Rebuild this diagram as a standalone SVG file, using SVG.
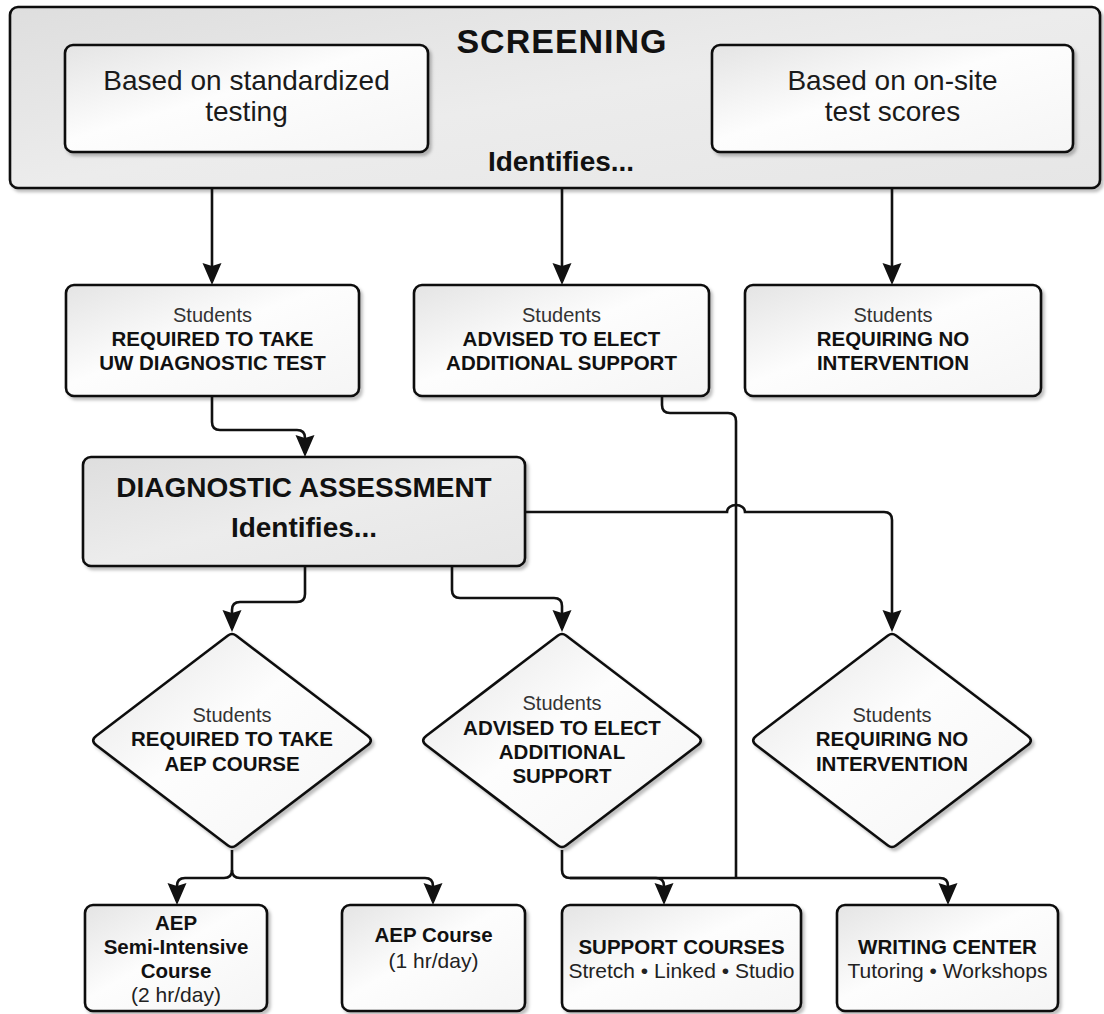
<svg xmlns="http://www.w3.org/2000/svg" xmlns:xlink="http://www.w3.org/1999/xlink" width="1104" height="1014" viewBox="0 0 1104 1014">
  <style>
    text { font-family: "Liberation Sans", Arial, sans-serif; text-anchor: middle; fill: #111; }
    .title { font-size: 34px; font-weight: bold; letter-spacing: 1px; }
    .ident { font-size: 28px; font-weight: bold; }
    .based { font-size: 28px; fill: #1a1a1a; }
    .stu { font-size: 20px; fill: #333; }
    .b { font-size: 20.5px; font-weight: bold; }
    .r { font-size: 21px; fill: #222; }
    .box { stroke: #111; stroke-width: 2.6; filter: url(#shadow); }
    .light { fill: url(#gLight); }
    .gray { fill: url(#gGray); }
    .conn path { fill: none; stroke: #111; stroke-width: 2.6; }
    .arr { marker-end: url(#ah); }
  </style>
  <defs>
    <linearGradient id="gLight" x1="0" y1="0" x2="1" y2="1">
      <stop offset="0" stop-color="#e4e4e4"/>
      <stop offset="0.45" stop-color="#fdfdfd"/>
      <stop offset="1" stop-color="#f5f5f5"/>
    </linearGradient>
    <linearGradient id="gGray" x1="0" y1="0" x2="1" y2="1">
      <stop offset="0" stop-color="#dedede"/>
      <stop offset="0.5" stop-color="#ececec"/>
      <stop offset="1" stop-color="#e6e6e6"/>
    </linearGradient>
    <filter id="shadow" x="-5%" y="-5%" width="112%" height="115%">
      <feDropShadow dx="2.5" dy="3" stdDeviation="1.5" flood-color="#000" flood-opacity="0.25"/>
    </filter>
    <marker id="ah" viewBox="0 -10 22 20" refX="18" refY="0" markerWidth="22" markerHeight="20" markerUnits="userSpaceOnUse" orient="auto">
      <path d="M0,-9.5 L22,0 L0,9.5 L3,0 Z" fill="#111"/>
    </marker>
    <path id="dia" d="M-4,-105 Q0,-108 4,-105 L135.6,-4.8 Q142,0 135.6,4.8 L4,105 Q0,108 -4,105 L-135.6,4.8 Q-142,0 -135.6,-4.8 Z"/>
  </defs>

  <rect width="1104" height="1014" fill="#fff"/>

  <g id="screening">
    <rect class="box gray" x="10" y="7" width="1090" height="181" rx="8"/>
    <text class="title" x="562" y="53">SCREENING</text>
    <text class="ident" x="561" y="171">Identifies...</text>
  </g>
  <g id="standardized">
    <rect class="box light" x="65" y="45" width="363" height="107" rx="8"/>
    <text class="based" x="246.5" y="90">Based on standardized</text>
    <text class="based" x="246.5" y="121">testing</text>
  </g>
  <g id="onsite">
    <rect class="box light" x="712" y="45" width="361" height="107" rx="8"/>
    <text class="based" x="892.5" y="90">Based on on-site</text>
    <text class="based" x="892.5" y="121">test scores</text>
  </g>

  <g id="req-uw">
    <rect class="box light" x="66" y="285" width="293" height="111" rx="8"/>
    <text class="stu" x="212.5" y="322">Students</text>
    <text class="b" x="212.5" y="346">REQUIRED TO TAKE</text>
    <text class="b" x="212.5" y="370">UW DIAGNOSTIC TEST</text>
  </g>
  <g id="adv-1">
    <rect class="box light" x="414" y="285" width="295" height="111" rx="8"/>
    <text class="stu" x="561.5" y="322">Students</text>
    <text class="b" x="561.5" y="346">ADVISED TO ELECT</text>
    <text class="b" x="561.5" y="370">ADDITIONAL SUPPORT</text>
  </g>
  <g id="none-1">
    <rect class="box light" x="745" y="285" width="296" height="111" rx="8"/>
    <text class="stu" x="893" y="322">Students</text>
    <text class="b" x="893" y="346">REQUIRING NO</text>
    <text class="b" x="893" y="370">INTERVENTION</text>
  </g>

  <g id="diagnostic">
    <rect class="box gray" x="83" y="457" width="442" height="109" rx="8"/>
    <text class="ident" x="304" y="497">DIAGNOSTIC ASSESSMENT</text>
    <text class="ident" x="304" y="537">Identifies...</text>
  </g>

  <g id="req-aep">
    <use xlink:href="#dia" href="#dia" class="box light" x="232" y="740.5"/>
    <text class="stu" x="232" y="722">Students</text>
    <text class="b" x="232" y="746">REQUIRED TO TAKE</text>
    <text class="b" x="232" y="771">AEP COURSE</text>
  </g>
  <g id="adv-2">
    <use xlink:href="#dia" href="#dia" class="box light" x="562" y="740.5"/>
    <text class="stu" x="562" y="710">Students</text>
    <text class="b" x="562" y="735">ADVISED TO ELECT</text>
    <text class="b" x="562" y="759">ADDITIONAL</text>
    <text class="b" x="562" y="783">SUPPORT</text>
  </g>
  <g id="none-2">
    <use xlink:href="#dia" href="#dia" class="box light" x="892" y="740.5"/>
    <text class="stu" x="892" y="722">Students</text>
    <text class="b" x="892" y="746">REQUIRING NO</text>
    <text class="b" x="892" y="771">INTERVENTION</text>
  </g>

  <g id="aep-semi">
    <rect class="box light" x="85" y="905" width="182" height="106" rx="8"/>
    <text class="b" x="176" y="930">AEP</text>
    <text class="b" x="176" y="954">Semi-Intensive</text>
    <text class="b" x="176" y="978">Course</text>
    <text class="r" x="176" y="1002">(2 hr/day)</text>
  </g>
  <g id="aep-course">
    <rect class="box light" x="342" y="905" width="183" height="106" rx="8"/>
    <text class="b" x="433.5" y="942">AEP Course</text>
    <text class="r" x="433.5" y="968">(1 hr/day)</text>
  </g>
  <g id="support-courses">
    <rect class="box light" x="562" y="905" width="239" height="106" rx="8"/>
    <text class="b" x="681.5" y="954">SUPPORT COURSES</text>
    <text class="r" x="681.5" y="978">Stretch • Linked • Studio</text>
  </g>
  <g id="writing-center">
    <rect class="box light" x="837" y="905" width="221" height="106" rx="8"/>
    <text class="b" x="947.5" y="954">WRITING CENTER</text>
    <text class="r" x="947.5" y="978">Tutoring • Workshops</text>
  </g>

  <g id="connectors" class="conn">
    <path class="arr" d="M212,189 V281"/>
    <path class="arr" d="M562,189 V281"/>
    <path class="arr" d="M892,189 V281"/>
    <path class="arr" d="M212,397 V422 Q212,430 220,430 H297 Q305,430 305,438 V453"/>
    <path class="arr" d="M305,567 V594 Q305,602 297,602 H240 Q232,602 232,610 V628"/>
    <path class="arr" d="M452,567 V590 Q452,598 460,598 H554 Q562,598 562,606 V628"/>
    <path class="arr" d="M526,512 H727 A9,7 0 0 1 745,512 H884 Q892,512 892,520 V628"/>
    <path d="M662,397 V405 Q662,413 670,413 H728 Q736,413 736,421 V878"/>
    <path class="arr" d="M232,850 V870 Q232,878 224,878 H185 Q177,878 177,886 V901"/>
    <path class="arr" d="M232,870 Q232,878 240,878 H425 Q433,878 433,886 V901"/>
    <path class="arr" d="M562,850 V870 Q562,878 570,878 H656 Q664,878 664,886 V901"/>
    <path class="arr" d="M570,878 H940 Q948,878 948,886 V901"/>
  </g>
</svg>
